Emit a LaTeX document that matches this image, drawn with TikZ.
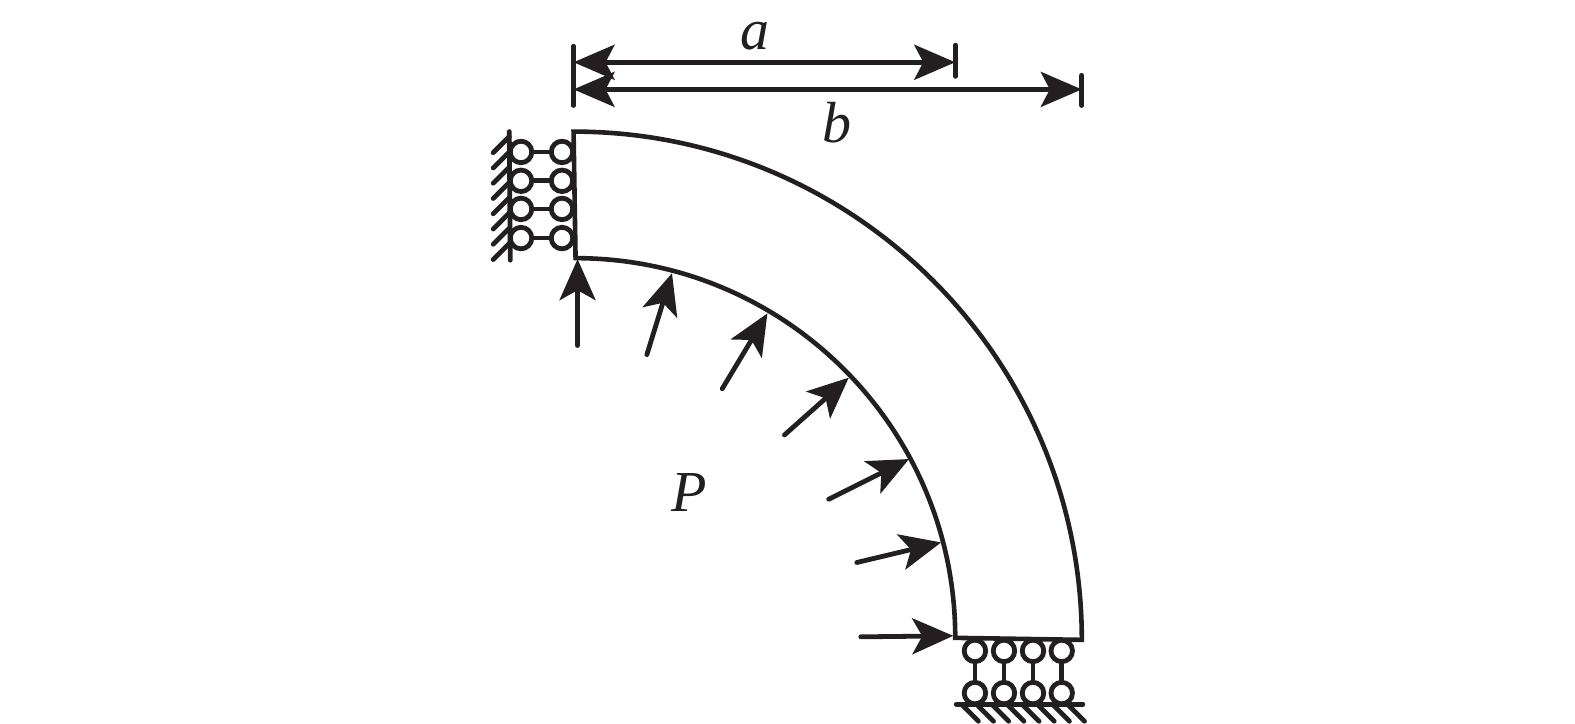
\documentclass[tikz,border=0pt]{standalone}
\usepackage{fontspec}
\setmainfont{Liberation Serif}
\usetikzlibrary{arrows.meta}
\definecolor{ink}{RGB}{35,31,32}
\tikzset{
  x=1.0045pt,y=-1.0045pt,
  every path/.style={draw=ink,line width=4.8pt},
  body/.style={line width=4.6pt,line join=miter},
  thin line/.style={line width=4.8pt,line cap=round},
  load/.style={thin line,-{Stealth[length=41pt,width=36pt,inset=10pt,fill=ink]}},
  dim/.style={thin line,{Stealth[length=41pt,width=35pt,inset=9pt,fill=ink]}-{Stealth[length=41pt,width=35pt,inset=9pt,fill=ink]}},
  hinge/.style={circle,draw=ink,line width=4.8pt,fill=white,inner sep=0pt,minimum size=21.5pt,outer sep=0pt},
  lab/.style={text=ink,font=\fontsize{58}{58}\selectfont\itshape,inner sep=0pt,draw=none},
}
\begin{document}
\begin{tikzpicture}
\useasboundingbox[draw=none] (0,0) rectangle (1568,720.7);
% elbow
\draw[body] (571,131) arc[start angle=-90,end angle=0,radius=506] -- (951,635)
  arc[start angle=0,end angle=-90,radius=378] -- cycle;
% dimension bars
\coordinate (aL) at (571,62); \coordinate (aR) at (951,62);
\coordinate (bL) at (571,89); \coordinate (bR) at (1077,89);
\draw[thin line] (571,46) -- (571,105);
\draw[thin line] (951,45) -- (951,76);
\draw[thin line] (1077,75) -- (1077,105);
\draw[dim] (aL) -- (aR);
\draw[dim] (bL) -- (bR);
\node[lab] (la) at (752,36) {a};
\node[lab] (lb) at (833,122) {b};
\node[lab] (lp) at (686,490) {P};
% pressure arrows
\foreach \n/\sx/\sy/\ex/\ey in {1/575/344/575/258,2/644/353/669/272,3/719/387/764/312,4/781/433/845/376,5/825/497/905/457,6/853/560/937/540,7/857/634/949/633}{
  \coordinate (s\n) at (\sx,\sy);
  \coordinate (e\n) at (\ex,\ey);
  \draw[load] (s\n) -- (e\n);
}
% left support
\draw[thin line] (507,131) -- (508,259);
\foreach \k in {0,...,7}{
  \draw[thin line] (491,{152+15.2*\k}) -- (507,{136+15.2*\k});
}
\foreach \n/\y in {1/151.3,2/180,3/208,4/237}{
  \node[hinge] (la\n) at (518.7,\y) {};
  \node[hinge] (lb\n) at (559.5,\y) {};
  \draw (la\n) -- (lb\n);
}
% bottom support
\draw[thin line] (952,701) -- (1078,701);
\foreach \k in {0,...,7}{
  \draw[thin line] ({958+15.1*\k},702) -- ({974+15.1*\k},718);
}
\foreach \n/\x in {1/970.6,2/999.5,3/1028.4,4/1057}{
  \node[hinge] (ba\n) at (\x,648) {};
  \node[hinge] (bb\n) at (\x,690) {};
  \draw (ba\n) -- (bb\n);
}
\end{tikzpicture}
\end{document}
